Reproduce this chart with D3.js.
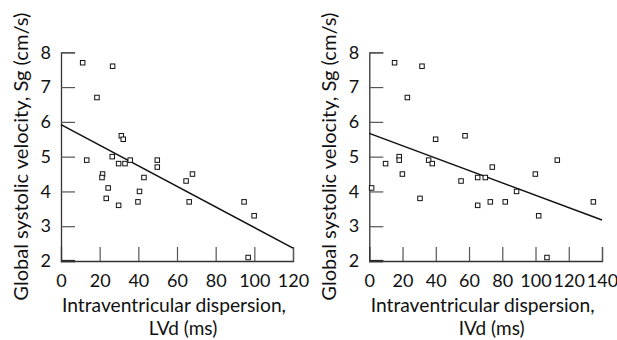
<!DOCTYPE html>
<html>
<head>
<meta charset="utf-8">
<script src="https://cdn.jsdelivr.net/npm/d3@7"></script>
<style>
  body { margin: 0; background: #fff; }
  svg { display: block; }
</style>
</head>
<body>
<div id="chart"></div>
<script>
// left panel: LVd (ms) vs Sg (cm/s)
const lvdX = [11.2, 26.7, 18.6, 31.2, 32.2, 13.3, 26.5, 29.8, 33.1, 35.8, 49.8, 49.8, 21.5,
              21.2, 24.4, 23.4, 29.8, 42.9, 40.6, 39.8, 64.7, 68.0, 66.3, 94.7, 99.9, 96.8];
const lvdSg = [7.7, 7.6, 6.7, 5.6, 5.5, 4.9, 5.0, 4.8, 4.8, 4.9, 4.9, 4.7, 4.5,
               4.4, 4.1, 3.8, 3.6, 4.4, 4.0, 3.7, 4.3, 4.5, 3.7, 3.7, 3.3, 2.1];
const lvdFit = [[0, 5.92], [120, 2.37]];

// right panel: IVd (ms) vs Sg (cm/s)
const ivdX = [15.2, 31.7, 22.9, 39.9, 57.6, 1.4, 9.8, 18.0, 18.0, 19.9, 30.5, 35.7, 37.9,
              55.2, 65.2, 69.8, 74.0, 65.2, 72.8, 81.8, 88.6, 99.9, 101.9, 113.1, 106.9, 134.8];
const ivdSg = [7.7, 7.6, 6.7, 5.5, 5.6, 4.1, 4.8, 5.0, 4.9, 4.5, 3.8, 4.9, 4.8,
               4.3, 4.4, 4.4, 4.7, 3.6, 3.7, 3.7, 4.0, 4.5, 3.3, 4.9, 2.1, 3.7];
const ivdFit = [[0, 5.67], [140, 3.18]];

const yTicks = [2, 3, 4, 5, 6, 7, 8];
const lvdTicks = [0, 20, 40, 60, 80, 100, 120];
const ivdTicks = [0, 20, 40, 60, 80, 100, 120, 140];

const yTitle = "Global systolic velocity, Sg (cm/s)";
const xTitle = "Intraventricular dispersion,";

const width = 617, height = 340;
const svg = d3.select("#chart").append("svg")
    .attr("width", width)
    .attr("height", height);

const font = "Lato, 'Open Sans', sans-serif";

const drawPanel = (left, right, xs, ys, fit, xTicks, unitLabel) => {
    const top = 52.3, bottom = 261;
    const xScale = d3.scaleLinear()
        .domain([0, xTicks[xTicks.length - 1]])
        .range([left, right]);
    const yScale = d3.scaleLinear()
        .domain([2, 8])
        .range([bottom, top]);

    const yAxis = d3.axisLeft(yScale).tickValues(yTicks).tickFormat(d3.format("d"))
        .tickSize(-14).tickPadding(10);
    const xAxis = d3.axisBottom(xScale).tickValues(xTicks).tickFormat(d3.format("d"))
        .tickSize(-14).tickPadding(13);

    const gy = svg.append("g")
        .attr("transform", `translate(${left},0)`)
        .call(yAxis);
    const gx = svg.append("g")
        .attr("transform", `translate(0,${bottom})`)
        .call(xAxis);

    [gx, gy].forEach(g => {
        g.select(".domain").attr("stroke", "#333").attr("stroke-width", 1.3);
        g.selectAll(".tick line").attr("stroke", "#555").attr("stroke-width", 1.2);
        g.selectAll(".tick text")
            .attr("fill", "#111")
            .style("font-family", font)
            .style("font-size", "18px");
    });
    // y = 2 tick sits on the x axis and reads as a thicker stub
    gy.selectAll(".tick").filter(d => d === 2).select("line")
        .attr("stroke", "#222").attr("stroke-width", 2.2).attr("transform", "translate(0,-0.5)");
    gx.selectAll(".tick").filter(d => d === 0).select("line").remove();

    // regression line
    svg.append("path")
        .attr("d", d3.line().x(d => xScale(d[0])).y(d => yScale(d[1]))(fit))
        .attr("fill", "none")
        .attr("stroke", "#111")
        .attr("stroke-width", 1.5);

    // points
    const pts = xs.map((x, i) => ({x: x, y: ys[i]}));
    const s = 4.5;
    svg.append("g").selectAll("rect")
        .data(pts)
        .join("rect")
        .attr("x", d => xScale(d.x) - s / 2)
        .attr("y", d => yScale(d.y) - s / 2)
        .attr("width", s)
        .attr("height", s)
        .attr("fill", "#fff")
        .attr("stroke", "#111")
        .attr("stroke-width", 1);

    // titles
    const mid = (left + right) / 2;
    svg.append("text")
        .text(yTitle)
        .attr("transform", `translate(${left - 33},${(top + bottom) / 2}) rotate(-90)`)
        .attr("text-anchor", "middle")
        .attr("textLength", 288)
        .attr("lengthAdjust", "spacingAndGlyphs")
        .style("font-family", font)
        .style("font-size", "20px")
        .attr("fill", "#111");

    svg.append("text")
        .text(xTitle)
        .attr("x", mid - 3)
        .attr("y", 312)
        .attr("text-anchor", "middle")
        .attr("textLength", 224)
        .attr("lengthAdjust", "spacingAndGlyphs")
        .style("font-family", font)
        .style("font-size", "19px")
        .attr("fill", "#111");

    svg.append("text")
        .text(unitLabel)
        .attr("x", mid + 6)
        .attr("y", 335)
        .attr("text-anchor", "middle")
        .style("font-family", font)
        .style("font-size", "19px")
        .attr("fill", "#111");
};

drawPanel(61, 293, lvdX, lvdSg, lvdFit, lvdTicks, "LVd (ms)");
drawPanel(369.3, 602, ivdX, ivdSg, ivdFit, ivdTicks, "IVd (ms)");
</script>
</body>
</html>
